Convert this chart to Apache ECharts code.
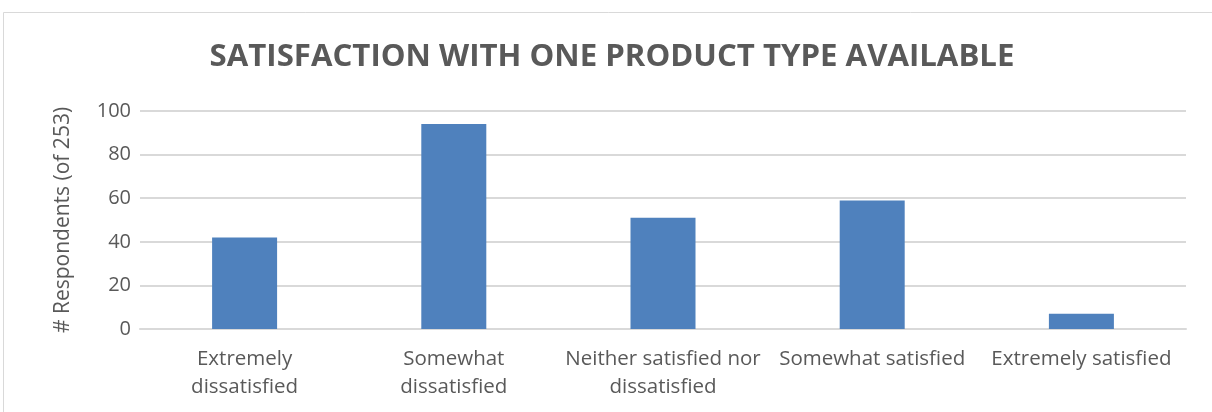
<!DOCTYPE html>
<html>
<head>
<meta charset="utf-8">
<script src="https://cdn.jsdelivr.net/npm/echarts@6/dist/echarts.min.js"></script>
<style>
  html, body { margin: 0; padding: 0; background: #ffffff; }
  #chart { width: 1212px; height: 412px; }
</style>
</head>
<body>
<div id="chart"></div>
<script>
// Survey responses: satisfaction when only one product type is available
const categories = [
  'Extremely\ndissatisfied',
  'Somewhat\ndissatisfied',
  'Neither satisfied nor\ndissatisfied',
  'Somewhat satisfied',
  'Extremely satisfied'
];
const respondents = [42, 94, 51, 59, 7];
const yTicks = [0, 20, 40, 60, 80, 100];

const textColor = '#595959';
const gridColor = '#d9d9d9';
const fontFamily = '"Open Sans", "Noto Sans", sans-serif';

const chart = echarts.init(document.getElementById('chart'), null, { renderer: 'canvas' });

chart.setOption({
  animation: false,
  backgroundColor: '#ffffff',
  graphic: [{
    type: 'rect',
    shape: { x: 3.5, y: 12.5, width: 1400, height: 600 },
    style: { fill: null, stroke: gridColor, lineWidth: 1 },
    silent: true,
    z: -1
  }],
  title: {
    text: 'SATISFACTION WITH ONE PRODUCT TYPE AVAILABLE',
    left: 607,
    top: 37,
    textAlign: 'center',
    textStyle: {
      color: textColor,
      fontFamily: fontFamily,
      fontWeight: 'bold',
      fontSize: 31.2
    }
  },
  grid: { left: 140, right: 26, top: 111, bottom: 83, containLabel: false },
  xAxis: {
    type: 'category',
    data: categories,
    axisLine: { show: true, lineStyle: { color: gridColor, width: 2 } },
    axisTick: { show: false },
    axisLabel: {
      color: textColor,
      fontFamily: fontFamily,
      fontSize: 20.5,
      lineHeight: 28,
      margin: 16,
      interval: 0
    }
  },
  yAxis: {
    type: 'value',
    min: yTicks[0],
    max: yTicks[yTicks.length - 1],
    interval: yTicks[1] - yTicks[0],
    name: '# Respondents (of 253)',
    nameLocation: 'middle',
    nameGap: 66,
    nameRotate: 90,
    nameTextStyle: { color: textColor, fontFamily: fontFamily, fontSize: 21 },
    axisLine: { show: false },
    axisTick: { show: false },
    axisLabel: { color: textColor, fontFamily: fontFamily, fontSize: 20, margin: 9 },
    splitLine: { lineStyle: { color: gridColor, width: 2 } }
  },
  series: [{
    type: 'bar',
    data: respondents,
    barWidth: 65,
    itemStyle: { color: '#4f81bd' }
  }]
});
</script>
</body>
</html>
